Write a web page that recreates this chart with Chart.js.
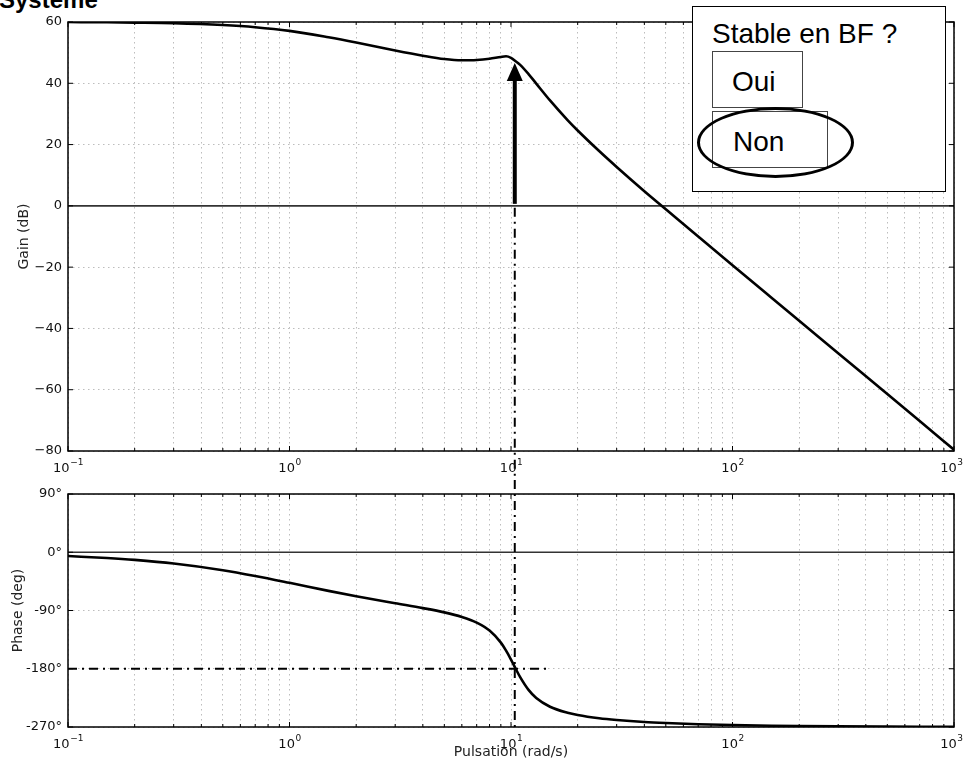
<!DOCTYPE html>
<html>
<head>
<meta charset="utf-8">
<script src="https://cdn.jsdelivr.net/npm/chart.js@4.4.0/dist/chart.umd.min.js"></script>
<style>
  html, body { margin: 0; padding: 0; background: #fff; }
  body { width: 964px; height: 773px; position: relative; overflow: hidden; }
  canvas { position: absolute; left: 0; }
  #gainCanvas { top: 0; }
  #phaseCanvas { top: 480px; }
  .titre { position: absolute; left: -1px; top: -12px; font: bold 24px "Liberation Sans", Arial, sans-serif; color: #000; line-height: 24px; }
  .question { position: absolute; left: 692px; top: 6px; width: 254px; height: 186px; border: 1px solid #000; background: #fff; box-sizing: border-box; }
  .txt { position: absolute; font: 28px "Liberation Sans", Arial, sans-serif; line-height: 28px; color: #000; white-space: nowrap; }
  .case { position: absolute; border: 1px solid #444; box-sizing: border-box; }
  .cercle { position: absolute; left: 697px; top: 107px; width: 157px; height: 71px; border: 3.5px solid #000; border-radius: 50%; box-sizing: border-box; }
</style>
</head>
<body>
<div class="titre">Système</div>
<canvas id="gainCanvas" width="964" height="480"></canvas>
<canvas id="phaseCanvas" width="964" height="293"></canvas>

<div class="question"></div>
<div class="txt" style="left:712px; top:20px;">Stable en BF ?</div>
<div class="case" style="left:712px; top:51px; width:91px; height:57px;"></div>
<div class="txt" style="left:732px; top:68px;">Oui</div>
<div class="case" style="left:712px; top:111px; width:116px; height:57px;"></div>
<div class="txt" style="left:733px; top:128px;">Non</div>
<div class="cercle"></div>

<script>
const pulsations = [0.1, 0.15, 0.2, 0.3, 0.5, 0.7, 1, 1.5, 2, 3, 4, 5, 6, 7, 8, 9, 9.5, 10, 10.5, 11, 12, 13, 15, 18, 20, 25, 30, 40, 50, 70, 100, 150, 200, 300, 500, 700, 1000];
const gainDb = [60.0, 59.9, 59.8, 59.6, 59.0, 58.3, 57.1, 55.0, 53.3, 50.7, 49.0, 47.9, 47.5, 47.6, 48.0, 48.6, 48.8, 48.3, 47.2, 46.0, 43.0, 39.9, 34.4, 28.0, 24.6, 17.9, 12.7, 4.8, -1.1, -10.0, -19.4, -30.0, -37.5, -48.1, -61.4, -70.2, -79.6];
const phaseDeg = [-5.9, -8.9, -11.8, -17.4, -27.7, -36.6, -47.2, -59.7, -68.0, -78.8, -86.3, -92.9, -100.0, -108.7, -120.9, -139.6, -152.0, -165.9, -180.0, -193.0, -212.7, -225.2, -238.7, -248.0, -251.5, -256.5, -259.2, -262.3, -263.9, -265.7, -267.0, -268.0, -268.5, -269.0, -269.4, -269.6, -269.7];

// Graduations
const decades = [0.1, 1, 10, 100, 1000];
const decadeExponents = ['−1', '0', '1', '2', '3'];   // 10^n
const gainTicks = [60, 40, 20, 0, -20, -40, -60, -80];
const gainLabels = ['60', '40', '20', '0', '−20', '−40', '−60', '−80'];
const phaseTicks = [90, 0, -90, -180, -270];
const phaseLabels = ['90°', '0°', '-90°', '-180°', '-270°'];

// Lecture de la marge de gain
const crossPulsation = 10.4;   // phase = -180°
const gainAtCross = 46.6;      // gain lu a cette pulsation
const crossPhase = -180;
const crossLineEnd = 15;       // fin du trait mixte horizontal

const tickFont = { family: 'DejaVu Sans', size: 13 };
const titleFont = { family: 'DejaVu Sans', size: 14 };
const gridColor = '#bdbdbd';

// graduations log : 1..9 x 10^k
function logTickValues() {
    const vals = [];
    for (let i = 0; i < decades.length - 1; i++) {
        for (let m = 1; m < 10; m++) vals.push(m * decades[i]);
    }
    vals.push(decades[decades.length - 1]);
    return vals;
}

function isDecade(v) {
    return decades.some(d => Math.abs(d - v) / d < 1e-6);
}

function xScale(height) {
    return {
        type: 'logarithmic',
        min: decades[0],
        max: decades[decades.length - 1],
        afterBuildTicks: s => { s.ticks = logTickValues().map(v => ({ value: v })); },
        afterFit: s => { s.height = height; s.paddingLeft = 0; s.paddingRight = 0; },
        ticks: { autoSkip: false, maxRotation: 0, callback: () => '' },
        grid: { drawTicks: false, color: gridColor, lineWidth: 1 },
        border: { display: false, dash: [1.5, 3.5] }
    };
}

function yScale(min, max, ticks, labels, title, titlePad) {
    return {
        type: 'linear',
        min: min,
        max: max,
        afterBuildTicks: s => { s.ticks = ticks.map(v => ({ value: v })); },
        afterFit: s => { s.width = 68; s.paddingTop = 0; s.paddingBottom = 0; },
        ticks: {
            padding: 6,
            color: '#111',
            font: tickFont,
            callback: v => labels[ticks.indexOf(v)]
        },
        grid: {
            drawTicks: false,
            lineWidth: 1,
            color: c => (c.tick && c.tick.value === 0) ? 'rgba(0,0,0,0)' : gridColor
        },
        border: { display: false, dash: [1.5, 3.5] },
        title: { display: true, text: title, color: '#222', font: titleFont, padding: { top: titlePad, bottom: 0 } }
    };
}

// cadre noir + graduations vers l'interieur (style matplotlib) + etiquettes 10^n
const cadre = {
    id: 'cadre',
    afterDraw(chart) {
        const { ctx, chartArea: a, scales } = chart;
        ctx.save();
        ctx.strokeStyle = '#000';
        ctx.lineWidth = 1;
        logTickValues().forEach(v => {
            const x = scales.x.getPixelForValue(v);
            const len = isDecade(v) ? 5 : 3;
            ctx.beginPath();
            ctx.moveTo(x, a.top); ctx.lineTo(x, a.top + len);
            ctx.moveTo(x, a.bottom); ctx.lineTo(x, a.bottom - len);
            ctx.stroke();
        });
        scales.y.ticks.forEach(t => {
            const y = scales.y.getPixelForValue(t.value);
            ctx.beginPath();
            ctx.moveTo(a.left, y); ctx.lineTo(a.left + 5, y);
            ctx.moveTo(a.right, y); ctx.lineTo(a.right - 5, y);
            ctx.stroke();
        });
        ctx.lineWidth = 1.5;
        ctx.strokeRect(a.left, a.top, a.right - a.left, a.bottom - a.top);

        // etiquettes de l'axe des pulsations
        ctx.fillStyle = '#111';
        ctx.textBaseline = 'alphabetic';
        ctx.textAlign = 'left';
        decades.forEach((d, i) => {
            const x = scales.x.getPixelForValue(d);
            ctx.font = '13px "DejaVu Sans"';
            const wBase = ctx.measureText('10').width;
            ctx.font = '9px "DejaVu Sans"';
            const wExp = ctx.measureText(decadeExponents[i]).width;
            const x0 = Math.min(x - (wBase + wExp) / 2, chart.width - wBase - wExp - 1.5);
            const yb = a.bottom + 21;
            ctx.font = '13px "DejaVu Sans"';
            ctx.fillText('10', x0, yb);
            ctx.font = '9px "DejaVu Sans"';
            ctx.fillText(decadeExponents[i], x0 + wBase + 0.5, yb - 7);
        });
        ctx.restore();
    }
};

function traitMixte(ctx) {
    ctx.strokeStyle = '#000';
    ctx.lineWidth = 2;
    ctx.setLineDash([9, 5, 2, 5]);
}

// fleche de la marge de gain + trait mixte vertical (diagramme du gain)
const flecheGain = {
    id: 'flecheGain',
    afterDatasetsDraw(chart) {
        const { ctx, scales } = chart;
        const x = scales.x.getPixelForValue(crossPulsation);
        const y0 = scales.y.getPixelForValue(0);
        const yTip = scales.y.getPixelForValue(gainAtCross);
        ctx.save();
        traitMixte(ctx);
        ctx.beginPath();
        ctx.moveTo(x, y0 + 2);
        ctx.lineTo(x, chart.height);
        ctx.stroke();
        ctx.setLineDash([]);
        ctx.lineWidth = 4;
        ctx.beginPath();
        ctx.moveTo(x, y0 - 2);
        ctx.lineTo(x, yTip + 14);
        ctx.stroke();
        ctx.fillStyle = '#000';
        ctx.beginPath();
        ctx.moveTo(x, yTip);
        ctx.lineTo(x - 8, yTip + 18);
        ctx.lineTo(x + 8, yTip + 18);
        ctx.closePath();
        ctx.fill();
        ctx.restore();
    }
};

// traits mixtes du diagramme de phase
const traitsPhase = {
    id: 'traitsPhase',
    afterDatasetsDraw(chart) {
        const { ctx, scales } = chart;
        const x = scales.x.getPixelForValue(crossPulsation);
        const y180 = scales.y.getPixelForValue(crossPhase);
        ctx.save();
        traitMixte(ctx);
        ctx.beginPath();
        ctx.moveTo(x, 0);
        ctx.lineTo(x, scales.y.getPixelForValue(phaseTicks[phaseTicks.length - 1]));
        ctx.stroke();
        ctx.beginPath();
        ctx.moveTo(scales.x.getPixelForValue(decades[0]), y180);
        ctx.lineTo(scales.x.getPixelForValue(crossLineEnd), y180);
        ctx.stroke();
        ctx.restore();
    }
};

function courbe(values) {
    return {
        data: pulsations.map((w, i) => ({ x: w, y: values[i] })),
        borderColor: '#000',
        borderWidth: 2.6,
        pointRadius: 0,
        cubicInterpolationMode: 'monotone',
        fill: false
    };
}

function ligneZero() {
    return {
        data: [{ x: decades[0], y: 0 }, { x: decades[decades.length - 1], y: 0 }],
        borderColor: '#333',
        borderWidth: 1.6,
        pointRadius: 0,
        fill: false
    };
}

new Chart(document.getElementById('gainCanvas').getContext('2d'), {
    type: 'line',
    data: { datasets: [courbe(gainDb), ligneZero()] },
    options: {
        responsive: false,
        animation: false,
        layout: { padding: { top: 22, right: 10, left: 0, bottom: 0 } },
        plugins: { legend: { display: false }, tooltip: { enabled: false } },
        scales: {
            x: xScale(29),
            y: yScale(-80, 60, gainTicks, gainLabels, 'Gain (dB)', 16)
        }
    },
    plugins: [cadre, flecheGain]
});

const phaseX = xScale(46);
phaseX.title = { display: true, text: 'Pulsation (rad/s)', color: '#222', font: titleFont, padding: { top: 0, bottom: 12 } };

new Chart(document.getElementById('phaseCanvas').getContext('2d'), {
    type: 'line',
    data: { datasets: [courbe(phaseDeg), ligneZero()] },
    options: {
        responsive: false,
        animation: false,
        layout: { padding: { top: 14, right: 10, left: 0, bottom: 0 } },
        plugins: { legend: { display: false }, tooltip: { enabled: false } },
        scales: {
            x: phaseX,
            y: yScale(-270, 90, phaseTicks, phaseLabels, 'Phase (deg)', 10)
        }
    },
    plugins: [cadre, traitsPhase]
});
</script>
</body>
</html>
